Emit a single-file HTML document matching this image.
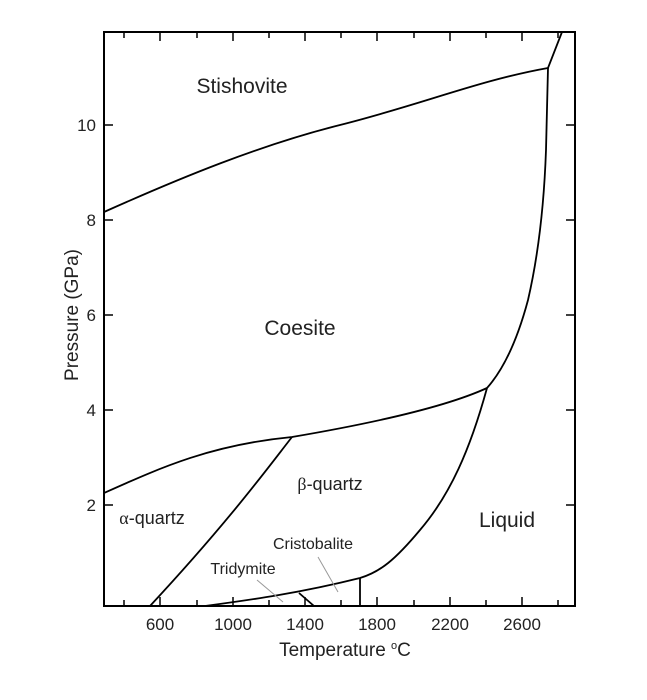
<!DOCTYPE html>
<html><head><style>body{margin:0;background:#fff}svg{display:block}text{font-family:"Liberation Sans",sans-serif;fill:#222}</style></head>
<body>
<svg width="647" height="700" viewBox="0 0 647 700" xmlns="http://www.w3.org/2000/svg">
<rect x="104" y="32" width="471" height="574" fill="none" stroke="#000" stroke-width="2"/>
<g stroke="#000" stroke-width="1.5">
<path d="M124 606v-6M160 606v-9M197 606v-6M233 606v-9M269 606v-6M305 606v-9M341 606v-6M377 606v-9M414 606v-6M450 606v-9M486 606v-6M522 606v-9M558 606v-6"/>
<path d="M124 32v6M160 32v9M197 32v6M233 32v9M269 32v6M305 32v9M341 32v6M377 32v9M414 32v6M450 32v9M486 32v6M522 32v9M558 32v6"/>
<path d="M104 125h9M104 220h9M104 315h9M104 410h9M104 505h9M575 125h-9M575 220h-9M575 315h-9M575 410h-9M575 505h-9"/>
</g>
<g fill="none" stroke="#000" stroke-width="1.8">
<path d="M104 212 C180 178,260 145,340 125 S480 80,548 68 L562 32"/>
<path d="M548 68 L546 150 Q543 235 528 300 Q512 360 487 388"/>
<path d="M104 493 C160 468,210 445,292 437 C380 422,450 405,487 388"/>
<path d="M487 388 C470 450,450 495,420 530 C395 560,380 572,360 578"/>
<path d="M292 437 C270 465,230 520,150 606"/>
<path d="M205 606 C250 600,300 593,360 578"/>
<path d="M299 593 L314 606"/>
<path d="M360 578 V606"/>
</g>
<g stroke="#999" stroke-width="1"><path d="M257 580 L283 602"/><path d="M318 557 L338 592"/></g>
<g font-size="17" text-anchor="end"><text x="96" y="131">10</text><text x="96" y="226">8</text><text x="96" y="321">6</text><text x="96" y="416">4</text><text x="96" y="511">2</text></g>
<g font-size="17" text-anchor="middle"><text x="160" y="630">600</text><text x="233" y="630">1000</text><text x="305" y="630">1400</text><text x="377" y="630">1800</text><text x="450" y="630">2200</text><text x="522" y="630">2600</text></g>
<text x="345" y="656" font-size="19" text-anchor="middle">Temperature <tspan font-size="11" dy="-7">o</tspan><tspan dy="7">C</tspan></text>
<text transform="translate(78,315) rotate(-90)" font-size="19" text-anchor="middle">Pressure (GPa)</text>
<text x="242" y="93" font-size="21" text-anchor="middle">Stishovite</text>
<text x="300" y="335" font-size="21" text-anchor="middle">Coesite</text>
<text x="330" y="490" font-size="18" text-anchor="middle"><tspan font-family="Liberation Serif">β</tspan>-quartz</text>
<text x="152" y="524" font-size="18" text-anchor="middle"><tspan font-family="Liberation Serif">α</tspan>-quartz</text>
<text x="507" y="527" font-size="21" text-anchor="middle">Liquid</text>
<text x="313" y="549" font-size="16" text-anchor="middle">Cristobalite</text>
<text x="243" y="574" font-size="16" text-anchor="middle">Tridymite</text>
</svg>
</body></html>
